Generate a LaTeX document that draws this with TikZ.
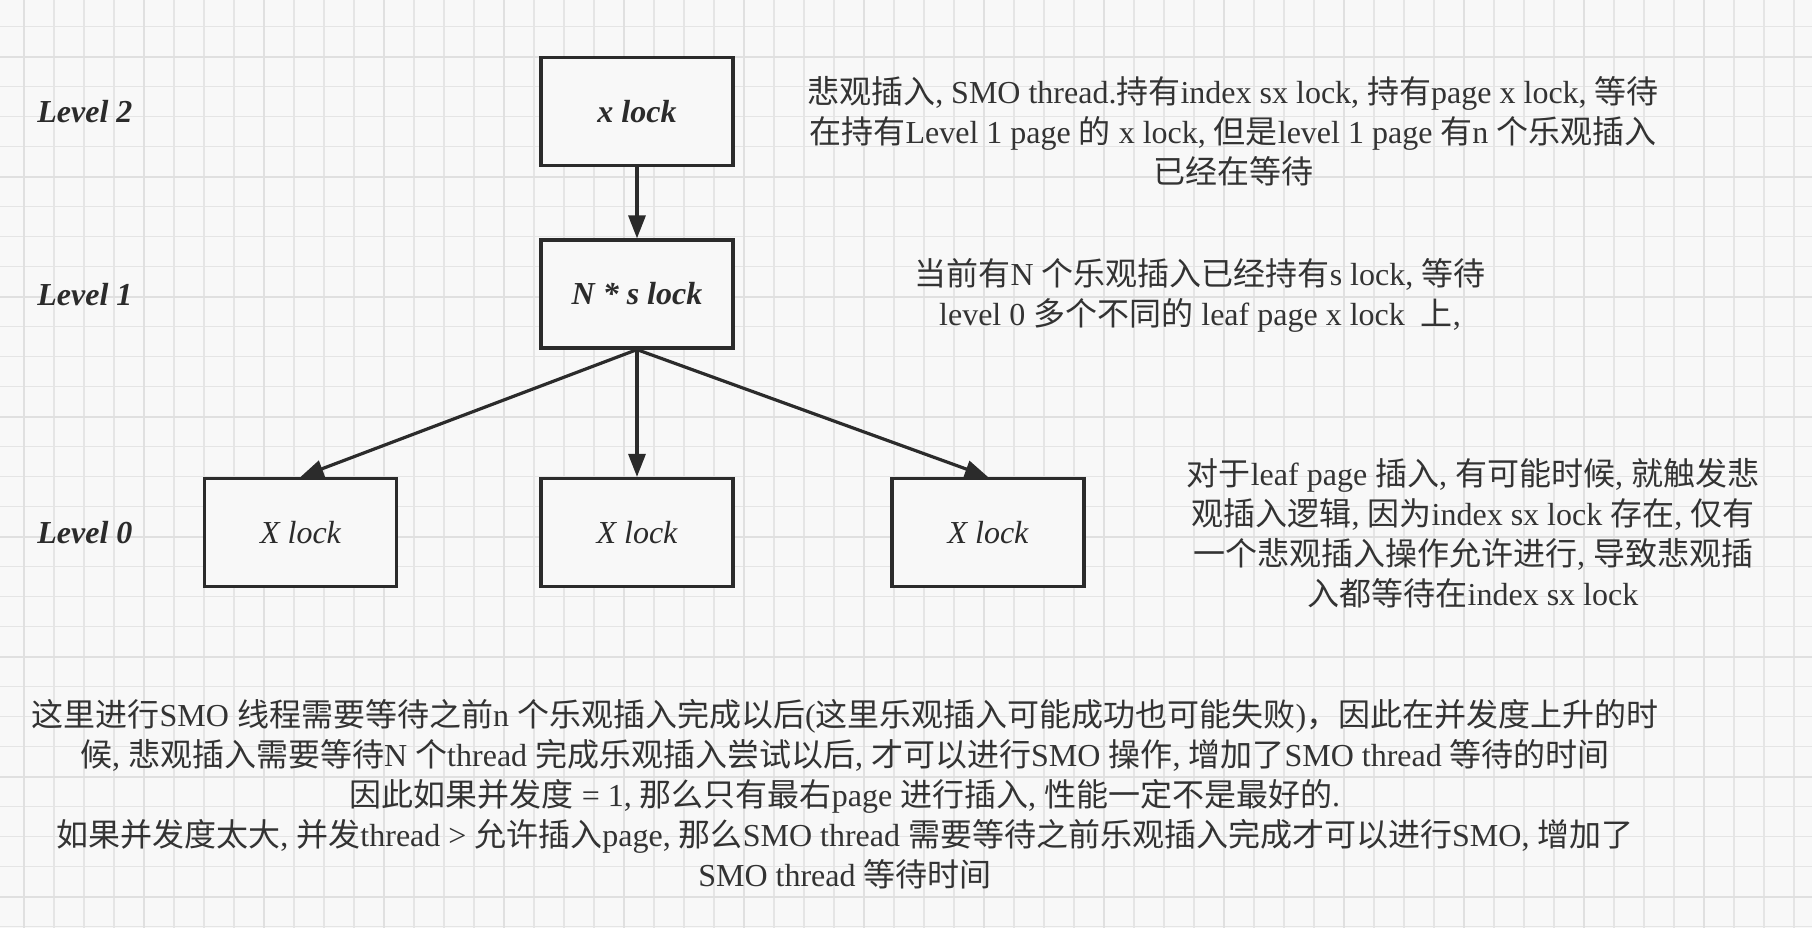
\documentclass[tikz,border=0pt]{standalone}
\usepackage{fontspec}
\setmainfont{Liberation Serif}
\newfontfamily\lat{Liberation Serif}
\newfontfamily\cjk{Noto Sans CJK SC}
\usetikzlibrary{arrows.meta}
\usepackage{xcolor}
\definecolor{paperc}{HTML}{F8F8F8}
\definecolor{gridc}{HTML}{E5E5E5}
\definecolor{gridmc}{HTML}{E0E0E0}
\definecolor{inkc}{HTML}{2B2B2B}
\definecolor{textc}{HTML}{333333}

% switch to the CJK font for Han characters, back to Times for the rest
\XeTeXinterchartokenstate=1
\newXeTeXintercharclass\hancls
\newcount\hancnt
\hancnt="4E00
\loop
  \XeTeXcharclass\hancnt=\hancls
  \advance\hancnt by 1
\ifnum\hancnt<"A000 \repeat
\XeTeXcharclass"FF0C=\hancls
\XeTeXinterchartoks 0 \hancls={\cjk}
\XeTeXinterchartoks 4095 \hancls={\cjk}
\XeTeXinterchartoks \hancls 0={\lat}
\XeTeXinterchartoks \hancls 4095={\lat}

\begin{document}
\begin{tikzpicture}[
    x=0.5pt, y=-0.5pt,
    >={Triangle[length=11.5pt, width=8.5pt]},
    lockbox/.style={draw=inkc, line width=1.6pt, fill=paperc, minimum width=96pt,
      minimum height=54pt, inner sep=0pt, text=inkc,
      font=\fontsize{16}{20}\selectfont\bfseries\itshape},
    leafbox/.style={lockbox, font=\fontsize{16}{20}\selectfont\itshape},
    lvl/.style={anchor=west, inner sep=0pt, text=inkc,
      font=\fontsize{16}{20}\selectfont\bfseries\itshape},
    note/.style={align=center, inner sep=0pt, text=textc,
      font=\fontsize{16}{20}\selectfont},
    link/.style={->, draw=inkc, line width=1.6pt},
    minor/.style={draw=gridc, line width=0.6pt},
    major/.style={draw=gridmc, line width=0.9pt}]

  % paper and grid
  \useasboundingbox (0,0) rectangle (1812,928);
  \fill[paperc] (0,0) rectangle (1812,928);
  \foreach \i in {0,...,59} {
    \draw[minor] ({24+30*\i},0) -- ({24+30*\i},928);
  }
  \foreach \j in {0,...,30} {
    \draw[minor] (0,{26.7+30*\j}) -- (1812,{26.7+30*\j});
  }
  \foreach \i in {0,...,14} {
    \draw[major] ({24+120*\i},0) -- ({24+120*\i},928);
  }
  \foreach \j in {0,...,7} {
    \draw[major] (0,{56.7+120*\j}) -- (1812,{56.7+120*\j});
  }

  % levels
  \node[lvl] (lv2) at (37,112) {Level 2};
  \node[lvl] (lv1) at (37,295) {Level 1};
  \node[lvl] (lv0) at (37,533) {Level 0};

  % lock tree
  \node[lockbox] (top)  at (637,111.5) {x lock};
  \node[lockbox] (mid)  at (637,294)   {N * s lock};
  \node[leafbox] (leafa) at (300.5,532.5) {X lock};
  \node[leafbox] (leafb) at (637,532.5)   {X lock};
  \node[leafbox] (leafc) at (988,532.5)   {X lock};

  \draw[link] (top) -- (mid);
  \foreach \n in {leafa,leafb,leafc} {
    \draw[link] (mid.south) -- (\n.north);
  }

  % notes
  \node[note] (n2) at (1233,131) {悲观插入, SMO thread.持有index sx lock, 持有page x lock, 等待\\
    在持有Level 1 page 的 x lock, 但是level 1 page 有n 个乐观插入\\
    已经在等待};
  \node[note] (n1) at (1200,295) {当前有N 个乐观插入已经持有s lock, 等待\\
    level 0 多个不同的 leaf page x lock \ 上,};
  \node[note] (n0) at (1473,533) {对于leaf page 插入, 有可能时候, 就触发悲\\
    观插入逻辑, 因为index sx lock 存在, 仅有\\
    一个悲观插入操作允许进行, 导致悲观插\\
    入都等待在index sx lock};
  \node[note] (sum) at (845,794) {这里进行SMO 线程需要等待之前n 个乐观插入完成以后(这里乐观插入可能成功也可能失败)，因此在并发度上升的时\\
    候, 悲观插入需要等待N 个thread 完成乐观插入尝试以后, 才可以进行SMO 操作, 增加了SMO thread 等待的时间\\
    因此如果并发度 = 1, 那么只有最右page 进行插入, 性能一定不是最好的.\\
    如果并发度太大, 并发thread > 允许插入page, 那么SMO thread 需要等待之前乐观插入完成才可以进行SMO, 增加了\\
    SMO thread 等待时间};
\end{tikzpicture}
\end{document}
